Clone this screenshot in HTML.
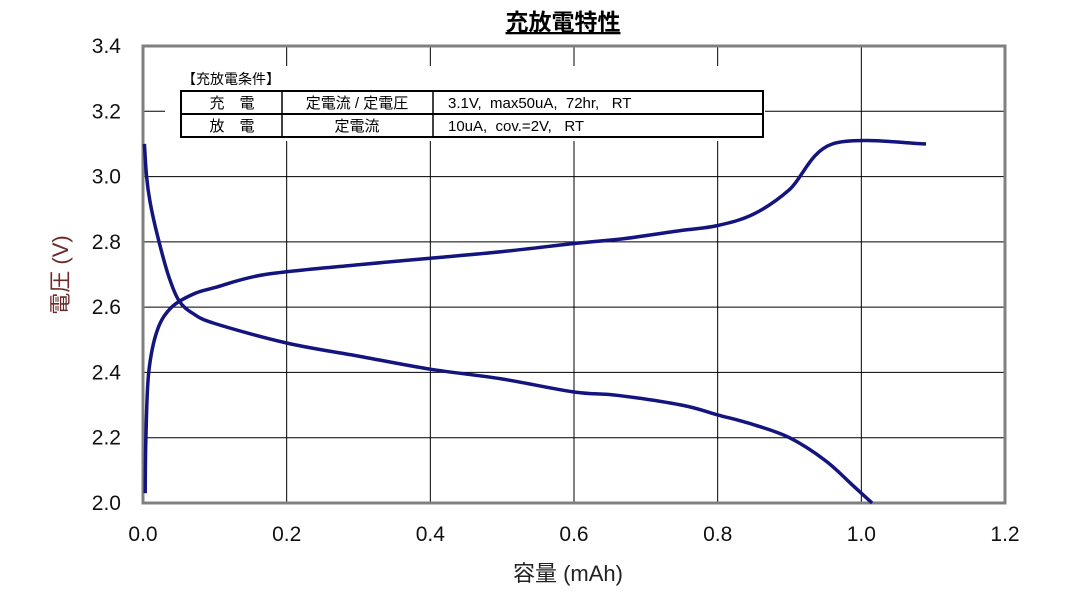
<!DOCTYPE html>
<html><head><meta charset="utf-8"><style>
body{margin:0;background:#fff;width:1085px;height:599px;overflow:hidden;font-family:"Liberation Sans","Noto Sans CJK JP",sans-serif}
</style></head><body>
<svg width="1085" height="599" id="c" style="font-family:'Liberation Sans','Noto Sans CJK JP',sans-serif">
<text x="563" y="30" text-anchor="middle" font-size="23" font-weight="bold" text-decoration="underline">充放電特性</text>
<g id="grid"></g>
<g id="ticks"></g>
<text x="568" y="581" text-anchor="middle" font-size="22" fill="#222">容量 (mAh)</text>
<text transform="translate(68,275) rotate(-90)" text-anchor="middle" font-size="22" fill="#6b2a2a">電圧 (V)</text>
<g font-size="15">
<rect x="165" y="66" width="600" height="75" fill="#fff"/>
<text x="182" y="84" font-size="14">【充放電条件】</text>
<rect x="181" y="91" width="582" height="46" fill="#fff" stroke="#000" stroke-width="2"/>
<line x1="181" y1="114" x2="763" y2="114" stroke="#000" stroke-width="2"/>
<line x1="282" y1="91" x2="282" y2="137" stroke="#000" stroke-width="1.5"/>
<line x1="433" y1="91" x2="433" y2="137" stroke="#000" stroke-width="1.5"/>
<text x="232" y="108" text-anchor="middle">充　電</text>
<text x="357" y="108" text-anchor="middle">定電流 / 定電圧</text>
<text x="448" y="108" xml:space="preserve">3.1V,  max50uA,  72hr,   RT</text>
<text x="232" y="131" text-anchor="middle">放　電</text>
<text x="357" y="131" text-anchor="middle">定電流</text>
<text x="448" y="131" xml:space="preserve">10uA,  cov.=2V,   RT</text>
</g>
<g id="series"></g>
</svg>
<script>
const xTicks=[0,0.2,0.4,0.6,0.8,1.0,1.2];
const yTicks=[2.0,2.2,2.4,2.6,2.8,3.0,3.2,3.4];
const chargeCap=[0.003,0.004,0.008,0.02,0.04,0.07,0.1,0.17,0.3,0.4,0.5,0.6,0.67,0.75,0.8,0.85,0.9,0.96,1.09];
const chargeV=[2.03,2.2,2.4,2.53,2.6,2.64,2.66,2.70,2.73,2.75,2.77,2.795,2.81,2.835,2.85,2.885,2.96,3.10,3.10];
const dischCap=[0.002,0.005,0.01,0.02,0.035,0.05,0.07,0.1,0.2,0.3,0.4,0.5,0.6,0.66,0.75,0.8,0.85,0.9,0.95,0.99,1.015];
const dischV=[3.1,3.0,2.92,2.82,2.7,2.62,2.58,2.55,2.49,2.45,2.41,2.38,2.34,2.33,2.30,2.27,2.24,2.20,2.13,2.05,2.0];
const X0=143,X1=1005,Y0=503,Y1=46;
const sx=v=>X0+(v-0)/1.2*(X1-X0);
const sy=v=>Y0-(v-2.0)/1.4*(Y0-Y1);
const NS="http://www.w3.org/2000/svg";
const g=document.getElementById('grid'),t=document.getElementById('ticks'),s=document.getElementById('series');
function mk(tag,at,p){const e=document.createElementNS(NS,tag);for(const k in at)e.setAttribute(k,at[k]);p.appendChild(e);return e;}
xTicks.forEach(v=>{
 const l=mk('line',{x1:sx(v),x2:sx(v),y1:Y1,y2:Y0,stroke:'#000','stroke-width':1},g);
 
 
 const tx=mk('text',{x:sx(v),y:541,'text-anchor':'middle','font-size':21,fill:'#111'},t);
 tx.textContent=v.toFixed(1);
 
 
});
yTicks.forEach(v=>{
 const l=mk('line',{x1:X0,x2:X1,y1:sy(v),y2:sy(v),stroke:'#000','stroke-width':1},g);
 
 
 const tx=mk('text',{x:121,y:sy(v)+7,'text-anchor':'end','font-size':21,fill:'#111'},t);
 tx.textContent=v.toFixed(1);
 
 
});
const fr=mk('rect',{x:X0,y:Y1,width:X1-X0,height:Y0-Y1,fill:'none',stroke:'#808080','stroke-width':3},g);


function path(cx,cy){
 const P=cx.map((c,i)=>[sx(c),sy(cy[i])]);
 let d='M'+P[0][0].toFixed(1)+','+P[0][1].toFixed(1);
 for(let i=0;i<P.length-1;i++){
  const p0=P[Math.max(0,i-1)],p1=P[i],p2=P[i+1],p3=P[Math.min(P.length-1,i+2)];
  const c1=[p1[0]+(p2[0]-p0[0])/6,p1[1]+(p2[1]-p0[1])/6];
  const c2=[p2[0]-(p3[0]-p1[0])/6,p2[1]-(p3[1]-p1[1])/6];
  d+=' C'+c1[0].toFixed(1)+','+c1[1].toFixed(1)+' '+c2[0].toFixed(1)+','+c2[1].toFixed(1)+' '+p2[0].toFixed(1)+','+p2[1].toFixed(1);
 }
 return d;
}
const p1=mk('path',{d:path(chargeCap,chargeV),fill:'none',stroke:'#14147f','stroke-width':3.5,'stroke-linejoin':'round'},s);


const p2=mk('path',{d:path(dischCap,dischV),fill:'none',stroke:'#14147f','stroke-width':3.5,'stroke-linejoin':'round'},s);


</script>
</body></html>
